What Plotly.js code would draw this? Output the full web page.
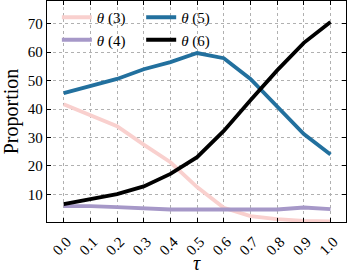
<!DOCTYPE html>
<html>
<head>
<meta charset="utf-8">
<script src="https://cdn.plot.ly/plotly-3.0.1.min.js"></script>
<style>html,body{margin:0;padding:0;background:#fff;}#chart{width:348px;height:274px;}</style>
</head>
<body>
<div id="chart"></div>
<script>
var tau = [0.0, 0.1, 0.2, 0.3, 0.4, 0.5, 0.6, 0.7, 0.8, 0.9, 1.0];
var tickLabels = ["0.0","0.1","0.2","0.3","0.4","0.5","0.6","0.7","0.8","0.9","1.0"];
var yTicks = [10, 20, 30, 40, 50, 60, 70];
var theta3 = [41.7, 37.8, 34.0, 27.5, 21.3, 12.6, 5.3, 2.4, 1.3, 0.7, 0.5];
var theta4 = [5.9, 5.9, 5.5, 5.0, 4.7, 4.7, 4.7, 4.7, 4.7, 5.4, 4.8];
var theta5 = [45.6, 48.1, 50.6, 54.0, 56.5, 59.7, 57.9, 50.6, 40.7, 31.2, 24.0];
var theta6 = [6.6, 8.5, 10.1, 12.8, 17.2, 23.1, 32.3, 43.1, 53.6, 63.3, 70.6];
var names = ["<i>θ</i> (3)", "<i>θ</i> (4)", "<i>θ</i> (5)", "<i>θ</i> (6)"];
var colors = ["#f9d0ce", "#a698c8", "#22709e", "#000000"];

var series = [theta3, theta4, theta5, theta6];
var legends = ["legend", "legend", "legend2", "legend2"];
var traces = series.map(function(s, i){
  return {x: tau, y: s, type: "scatter", mode: "lines", name: names[i],
    line: {color: colors[i], width: 3.8}, legend: legends[i]};
});

var fam = "'Liberation Serif', 'DejaVu Serif', serif";
var font = {family: fam, size: 15, color: "#000"};
var legFont = {family: fam, size: 15, color: "#000"};
var titleFont = {family: fam, size: 20, color: "#000"};
var gridc = "#b0b0b0";
var layout = {
  width: 348, height: 274,
  margin: {l: 47, r: 2, t: 1, b: 52},
  paper_bgcolor: "#fff", plot_bgcolor: "#fff",
  font: font,
  showlegend: true,
  legend: {x: 0.033, xanchor: "left", y: 1, yanchor: "top", bgcolor: "rgba(0,0,0,0)",
    font: legFont, tracegroupgap: 0, itemwidth: 30},
  legend2: {x: 0.315, xanchor: "left", y: 1, yanchor: "top", bgcolor: "rgba(0,0,0,0)",
    font: legFont, tracegroupgap: 0, itemwidth: 30},
  xaxis: {
    range: [-0.0625, 1.058], tickvals: tau, ticktext: tickLabels, tickangle: -45,
    ticks: "inside", ticklen: 4, tickcolor: "#000", tickwidth: 1,
    ticklabelshift: 3, ticklabelstandoff: 4,
    showline: true, linecolor: "#000", linewidth: 1.2, mirror: "ticks",
    showgrid: true, gridcolor: gridc, griddash: "dot", gridwidth: 1,
    zeroline: false, tickfont: font,
    title: {text: "<i>τ</i>", font: titleFont, standoff: 17}
  },
  yaxis: {
    range: [0.3, 78], tickvals: yTicks,
    ticks: "inside", ticklen: 4, tickcolor: "#000", tickwidth: 1,
    showline: true, linecolor: "#000", linewidth: 1.2, mirror: "ticks",
    showgrid: true, gridcolor: gridc, griddash: "dot", gridwidth: 1,
    zeroline: false, tickfont: font,
    title: {text: "Proportion", font: titleFont, standoff: 6}
  }
};
Plotly.newPlot("chart", traces, layout, {displayModeBar: false, staticPlot: true});
</script>
</body>
</html>
